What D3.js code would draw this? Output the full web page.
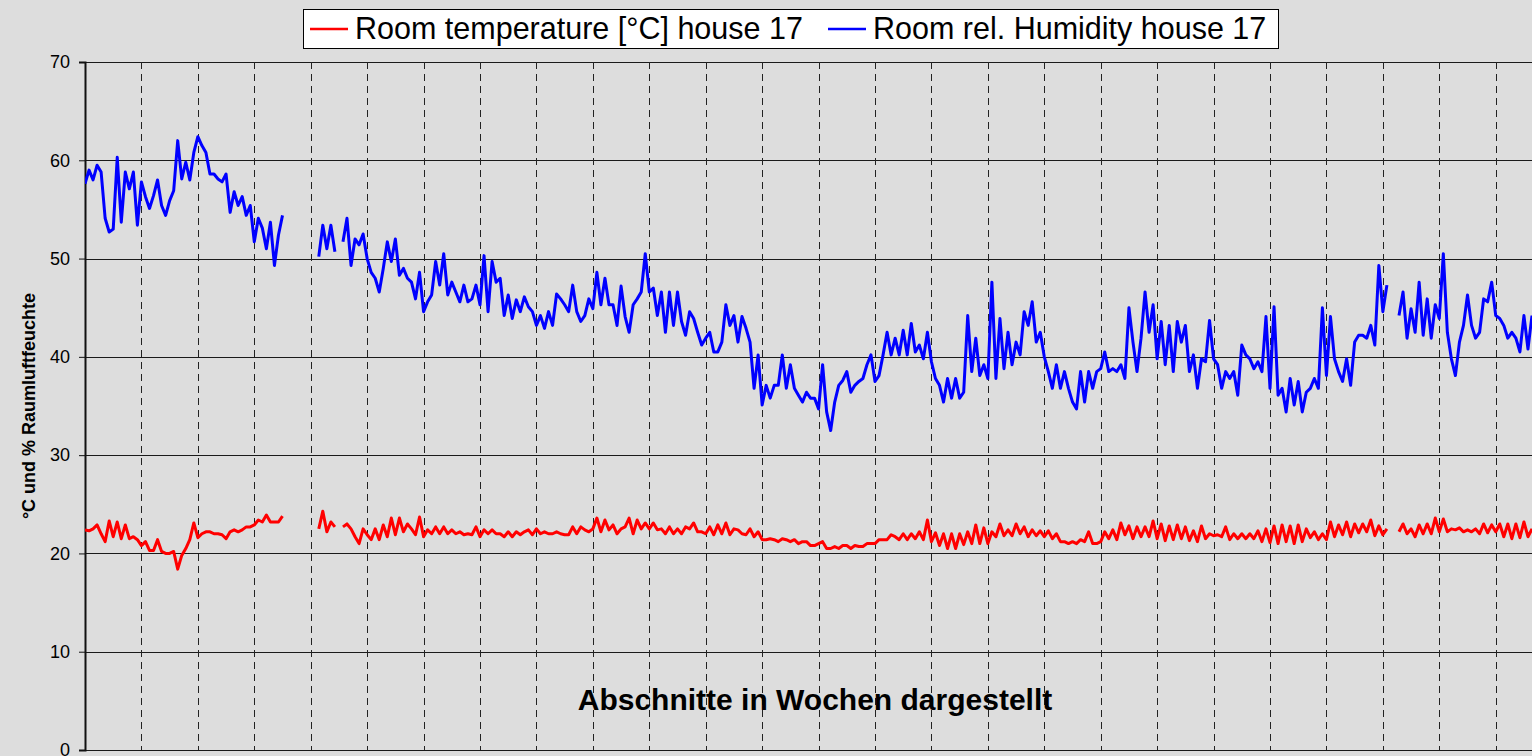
<!DOCTYPE html>
<html lang="en">
<head>
    <meta charset="UTF-8" />
    <title>House 17 room climate</title>
    <script src="https://d3js.org/d3.v7.min.js"></script>
    <style>
        body { margin: 0; background: #dddddd; }
        svg { display: block; font-family: "Liberation Sans", Arial, sans-serif; }
    </style>
</head>
<body>
    <script>
        // one reading every half day, null = no data
        var stepDays = 0.5;
        var weekDays = 7;
        var yTicks = [0, 10, 20, 30, 40, 50, 60, 70];
        var seriesNames = ["Room temperature [°C] house 17", "Room rel. Humidity house 17"];
        var yLabel = "°C und % Raumluftfeuchte";
        var xLabel = "Abschnitte in Wochen dargestellt";

        var humidity = [
            57.6, 59.0, 58.0, 59.5, 58.8, 54.1, 52.7, 53.0, 60.3, 53.7,
            58.8, 57.1, 58.8, 53.4, 57.8, 56.3, 55.1, 56.4, 58.0, 55.4,
            54.4, 55.9, 56.9, 62.0, 58.1, 59.8, 58.0, 60.8, 62.4, 61.5,
            60.8, 58.6, 58.6, 58.1, 57.8, 58.6, 54.7, 56.8, 55.4, 56.3,
            54.4, 55.4, 51.7, 54.1, 53.1, 51.0, 53.7, 49.3, 52.4, 54.4,
            null, null, null, null, null, null, null, null, 50.2, 53.4,
            51.0, 53.4, 50.7, null, 51.7, 54.1, 49.3, 52.0, 51.4, 52.5,
            50.0, 48.6, 48.0, 46.6, 49.0, 51.7, 49.7, 52.0, 48.3, 49.0,
            48.0, 47.6, 45.9, 48.6, 44.6, 45.6, 46.3, 49.7, 47.3, 50.5,
            46.3, 47.6, 46.6, 45.6, 47.3, 45.6, 45.9, 47.3, 45.3, 50.3,
            44.6, 49.7, 47.6, 48.0, 44.2, 46.3, 43.9, 45.8, 44.6, 46.1,
            45.1, 44.6, 43.2, 44.2, 42.9, 44.6, 43.2, 46.4, 45.9, 45.3,
            44.6, 47.3, 44.6, 43.6, 44.2, 45.9, 44.9, 48.6, 45.3, 48.0,
            45.3, 45.3, 43.2, 47.2, 44.1, 42.5, 45.3, 45.9, 46.6, 50.5,
            46.6, 47.0, 44.2, 46.6, 42.5, 46.6, 43.2, 46.6, 43.6, 42.2,
            44.6, 43.9, 42.5, 41.2, 41.9, 42.5, 40.5, 40.5, 41.5, 45.3,
            43.2, 44.2, 41.5, 44.1, 42.9, 41.5, 36.8, 40.2, 35.1, 37.1,
            35.8, 37.1, 37.1, 40.2, 36.8, 39.2, 36.8, 36.1, 35.4, 36.4,
            35.8, 35.8, 34.7, 39.2, 34.4, 32.5, 35.4, 37.1, 37.6, 38.5,
            36.4, 37.1, 37.5, 37.8, 39.2, 40.2, 37.5, 38.1, 40.2, 42.5,
            40.2, 41.9, 40.2, 42.7, 40.2, 43.4, 40.5, 41.2, 39.8, 42.5,
            39.5, 37.8, 37.1, 35.4, 37.8, 35.8, 37.8, 35.8, 36.4, 44.2,
            38.5, 41.9, 38.1, 39.2, 37.8, 47.6, 37.8, 43.9, 38.8, 42.5,
            39.2, 41.5, 40.2, 44.6, 43.2, 45.6, 41.5, 42.5, 40.0, 38.5,
            36.8, 39.2, 36.8, 38.5, 36.8, 35.4, 34.7, 38.5, 35.4, 38.5,
            36.8, 38.5, 38.8, 40.5, 38.5, 38.8, 38.5, 39.2, 37.8, 45.0,
            41.5, 38.5, 41.9, 46.6, 42.5, 45.3, 39.8, 43.6, 39.2, 43.2,
            38.5, 43.6, 41.5, 43.2, 38.5, 40.2, 36.8, 39.8, 39.5, 43.7,
            39.8, 39.2, 36.8, 38.5, 37.8, 38.5, 36.1, 41.2, 40.2, 39.8,
            38.8, 39.5, 38.5, 44.1, 36.8, 45.1, 36.1, 36.8, 34.4, 37.8,
            35.1, 37.5, 34.4, 36.4, 36.8, 37.8, 36.8, 45.0, 38.1, 44.1,
            39.8, 38.5, 37.5, 39.8, 37.1, 41.5, 42.2, 42.2, 41.9, 43.2,
            41.2, 49.3, 44.6, 47.3, null, null, 44.2, 46.6, 41.9, 44.9,
            42.5, 47.6, 42.2, 45.9, 41.9, 45.3, 43.9, 50.5, 42.5, 39.8,
            38.1, 41.5, 43.2, 46.3, 43.2, 41.9, 42.5, 45.9, 45.6, 47.6,
            44.2, 43.9, 43.2, 41.9, 42.5, 41.9, 40.5, 44.2, 40.8, 44.2
        ];

        var temperature = [
            22.4, 22.3, 22.5, 22.9, 22.0, 21.2, 23.3, 21.7, 23.2, 21.5,
            22.9, 21.5, 21.7, 21.4, 20.8, 21.2, 20.3, 20.3, 21.4, 20.2,
            20.0, 20.0, 20.2, 18.4, 19.8, 20.5, 21.4, 23.1, 21.6, 22.0,
            22.2, 22.2, 22.0, 22.0, 21.9, 21.5, 22.2, 22.4, 22.2, 22.4,
            22.7, 22.7, 22.9, 23.4, 23.2, 23.9, 23.2, 23.2, 23.2, 23.8,
            null, null, null, null, null, null, null, null, 22.5, 24.3,
            22.2, 23.2, 22.7, null, 22.7, 23.0, 22.5, 21.7, 21.0, 22.5,
            21.9, 21.4, 22.5, 21.4, 22.9, 21.7, 23.6, 21.9, 23.6, 22.2,
            23.0, 22.5, 21.9, 23.7, 21.7, 22.4, 22.0, 22.7, 22.0, 22.7,
            22.0, 22.4, 22.0, 22.2, 21.9, 22.0, 21.9, 22.7, 21.7, 22.4,
            22.0, 22.4, 22.0, 22.0, 21.7, 22.2, 21.7, 22.2, 21.9, 22.2,
            22.4, 21.9, 22.5, 22.0, 22.2, 22.0, 22.0, 22.2, 22.0, 21.9,
            21.9, 22.7, 22.0, 22.7, 22.4, 22.2, 22.5, 23.6, 22.2, 23.4,
            22.4, 22.9, 22.0, 22.5, 22.7, 23.6, 22.0, 23.4, 22.5, 23.1,
            22.5, 23.1, 22.4, 22.5, 22.0, 22.7, 22.0, 22.5, 22.0, 22.7,
            22.5, 23.1, 22.2, 22.2, 22.0, 22.7, 21.9, 22.9, 22.0, 23.1,
            21.9, 22.5, 22.4, 22.0, 21.9, 22.5, 21.7, 22.2, 21.4, 21.4,
            21.5, 21.4, 21.2, 21.5, 21.4, 21.2, 21.4, 21.0, 21.2, 21.2,
            20.8, 20.8, 21.0, 21.2, 20.5, 20.5, 20.7, 20.5, 20.8, 20.8,
            20.5, 20.8, 20.7, 20.7, 21.0, 21.0, 21.0, 21.4, 21.4, 21.4,
            21.9, 21.7, 21.4, 22.0, 21.4, 22.0, 21.5, 22.2, 21.4, 23.4,
            21.2, 22.1, 20.8, 22.0, 20.5, 22.0, 20.5, 22.0, 20.9, 22.2,
            21.0, 22.9, 21.0, 22.6, 21.0, 22.2, 21.7, 23.0, 21.8, 22.4,
            21.8, 23.0, 22.0, 22.7, 21.7, 22.4, 21.8, 22.3, 21.7, 22.3,
            21.5, 22.0, 21.2, 21.2, 21.0, 21.2, 21.0, 21.4, 21.2, 22.2,
            21.0, 21.0, 21.2, 22.2, 21.5, 22.4, 21.4, 23.1, 21.9, 22.8,
            21.5, 22.7, 21.7, 22.7, 21.7, 23.3, 21.5, 23.0, 21.3, 22.8,
            21.4, 22.9, 21.5, 22.7, 21.3, 22.3, 21.2, 22.8, 21.5, 22.0,
            21.8, 21.9, 21.7, 22.7, 21.4, 22.0, 21.5, 22.0, 21.5, 22.0,
            21.5, 22.3, 21.2, 22.5, 21.1, 22.8, 21.0, 22.9, 21.2, 22.8,
            21.0, 22.9, 21.2, 22.5, 21.6, 22.2, 21.4, 22.0, 21.4, 23.2,
            21.7, 22.9, 21.9, 23.2, 21.7, 23.0, 22.1, 23.0, 22.2, 23.4,
            21.8, 22.8, 21.9, 22.5, null, null, 22.2, 23.0, 22.0, 22.5,
            21.7, 22.9, 22.0, 23.0, 22.0, 23.6, 22.2, 23.5, 22.2, 22.5,
            22.4, 22.6, 22.2, 22.4, 22.2, 22.5, 22.0, 23.0, 22.1, 22.9,
            22.2, 23.0, 21.7, 23.0, 21.5, 23.0, 21.6, 23.2, 21.7, 22.5
        ];

        var w = 1532;
        var h = 756;
        var plotLeft = 85, plotRight = 1532, plotTop = 62, plotBottom = 750;

        var svg = d3.select("body")
            .append("svg")
            .attr("width", w)
            .attr("height", h);

        svg.append("rect")
            .attr("width", w)
            .attr("height", h)
            .attr("fill", "#dddddd");

        var lastDay = (humidity.length - 1) * stepDays;

        // Scales
        var xScale = d3.scaleLinear()
            .domain([0, lastDay])
            .range([plotLeft, plotRight]);

        var yScale = d3.scaleLinear()
            .domain([0, 70])
            .range([plotBottom, plotTop]);

        // horizontal grid
        svg.selectAll(".hgrid")
            .data(yTicks)
            .enter()
            .append("line")
            .attr("class", "hgrid")
            .attr("x1", plotLeft)
            .attr("x2", plotRight)
            .attr("y1", function(d) { return Math.round(yScale(d)) + 0.5; })
            .attr("y2", function(d) { return Math.round(yScale(d)) + 0.5; })
            .attr("stroke", "#1a1a1a")
            .attr("stroke-width", 1.2);

        // dashed week lines
        var weeks = d3.range(weekDays, lastDay, weekDays);
        svg.selectAll(".vgrid")
            .data(weeks)
            .enter()
            .append("line")
            .attr("class", "vgrid")
            .attr("x1", function(d) { return Math.round(xScale(d)) + 0.5; })
            .attr("x2", function(d) { return Math.round(xScale(d)) + 0.5; })
            .attr("y1", plotTop)
            .attr("y2", plotBottom)
            .attr("stroke", "#222")
            .attr("stroke-width", 1)
            .attr("stroke-dasharray", "7,5");

        // y axis
        var yAxis = d3.axisLeft(yScale)
            .tickValues(yTicks)
            .tickSize(6)
            .tickPadding(9);

        var gy = svg.append("g")
            .attr("transform", "translate(" + plotLeft + ",0)")
            .call(yAxis);
        gy.select(".domain").attr("stroke", "#111").attr("stroke-width", 2);
        gy.selectAll(".tick line").attr("stroke", "#111");
        gy.selectAll(".tick text")
            .attr("font-size", 18)
            .attr("font-family", "Liberation Sans, Arial, sans-serif")
            .attr("fill", "#000");

        // lines
        svg.append("clipPath")
            .attr("id", "plot")
            .append("rect")
            .attr("x", plotLeft)
            .attr("y", plotTop)
            .attr("width", plotRight - plotLeft)
            .attr("height", plotBottom - plotTop);

        var line = d3.line()
            .defined(function(d) { return d != null; })
            .x(function(d, i) { return xScale(i * stepDays); })
            .y(function(d) { return yScale(d); });

        svg.append("path")
            .datum(humidity)
            .attr("clip-path", "url(#plot)")
            .attr("fill", "none")
            .attr("stroke", "#0000ff")
            .attr("stroke-width", 3)
            .attr("stroke-linejoin", "round")
            .attr("d", line);

        svg.append("path")
            .datum(temperature)
            .attr("clip-path", "url(#plot)")
            .attr("fill", "none")
            .attr("stroke", "#ff0000")
            .attr("stroke-width", 3)
            .attr("stroke-linejoin", "round")
            .attr("d", line);

        // axis titles
        svg.append("text")
            .attr("transform", "translate(35,406) rotate(-90)")
            .attr("text-anchor", "middle")
            .attr("font-weight", "bold")
            .attr("font-size", 18)
            .text(yLabel);

        svg.append("text")
            .attr("x", 815)
            .attr("y", 710)
            .attr("text-anchor", "middle")
            .attr("font-weight", "bold")
            .attr("font-size", 30)
            .text(xLabel);

        // legend
        var legend = svg.append("g");
        legend.append("rect")
            .attr("x", 303.5)
            .attr("y", 9.5)
            .attr("width", 975)
            .attr("height", 39)
            .attr("fill", "#fff")
            .attr("stroke", "#000");

        var legendX = [310, 828];
        var colours = ["#ff0000", "#0000ff"];
        seriesNames.forEach(function(name, i) {
            legend.append("line")
                .attr("x1", legendX[i])
                .attr("x2", legendX[i] + 38)
                .attr("y1", 29)
                .attr("y2", 29)
                .attr("stroke", colours[i])
                .attr("stroke-width", 2.5);
            legend.append("text")
                .attr("x", legendX[i] + 45)
                .attr("y", 39)
                .attr("font-size", 30.5)
                .text(name);
        });
    </script>
</body>
</html>
